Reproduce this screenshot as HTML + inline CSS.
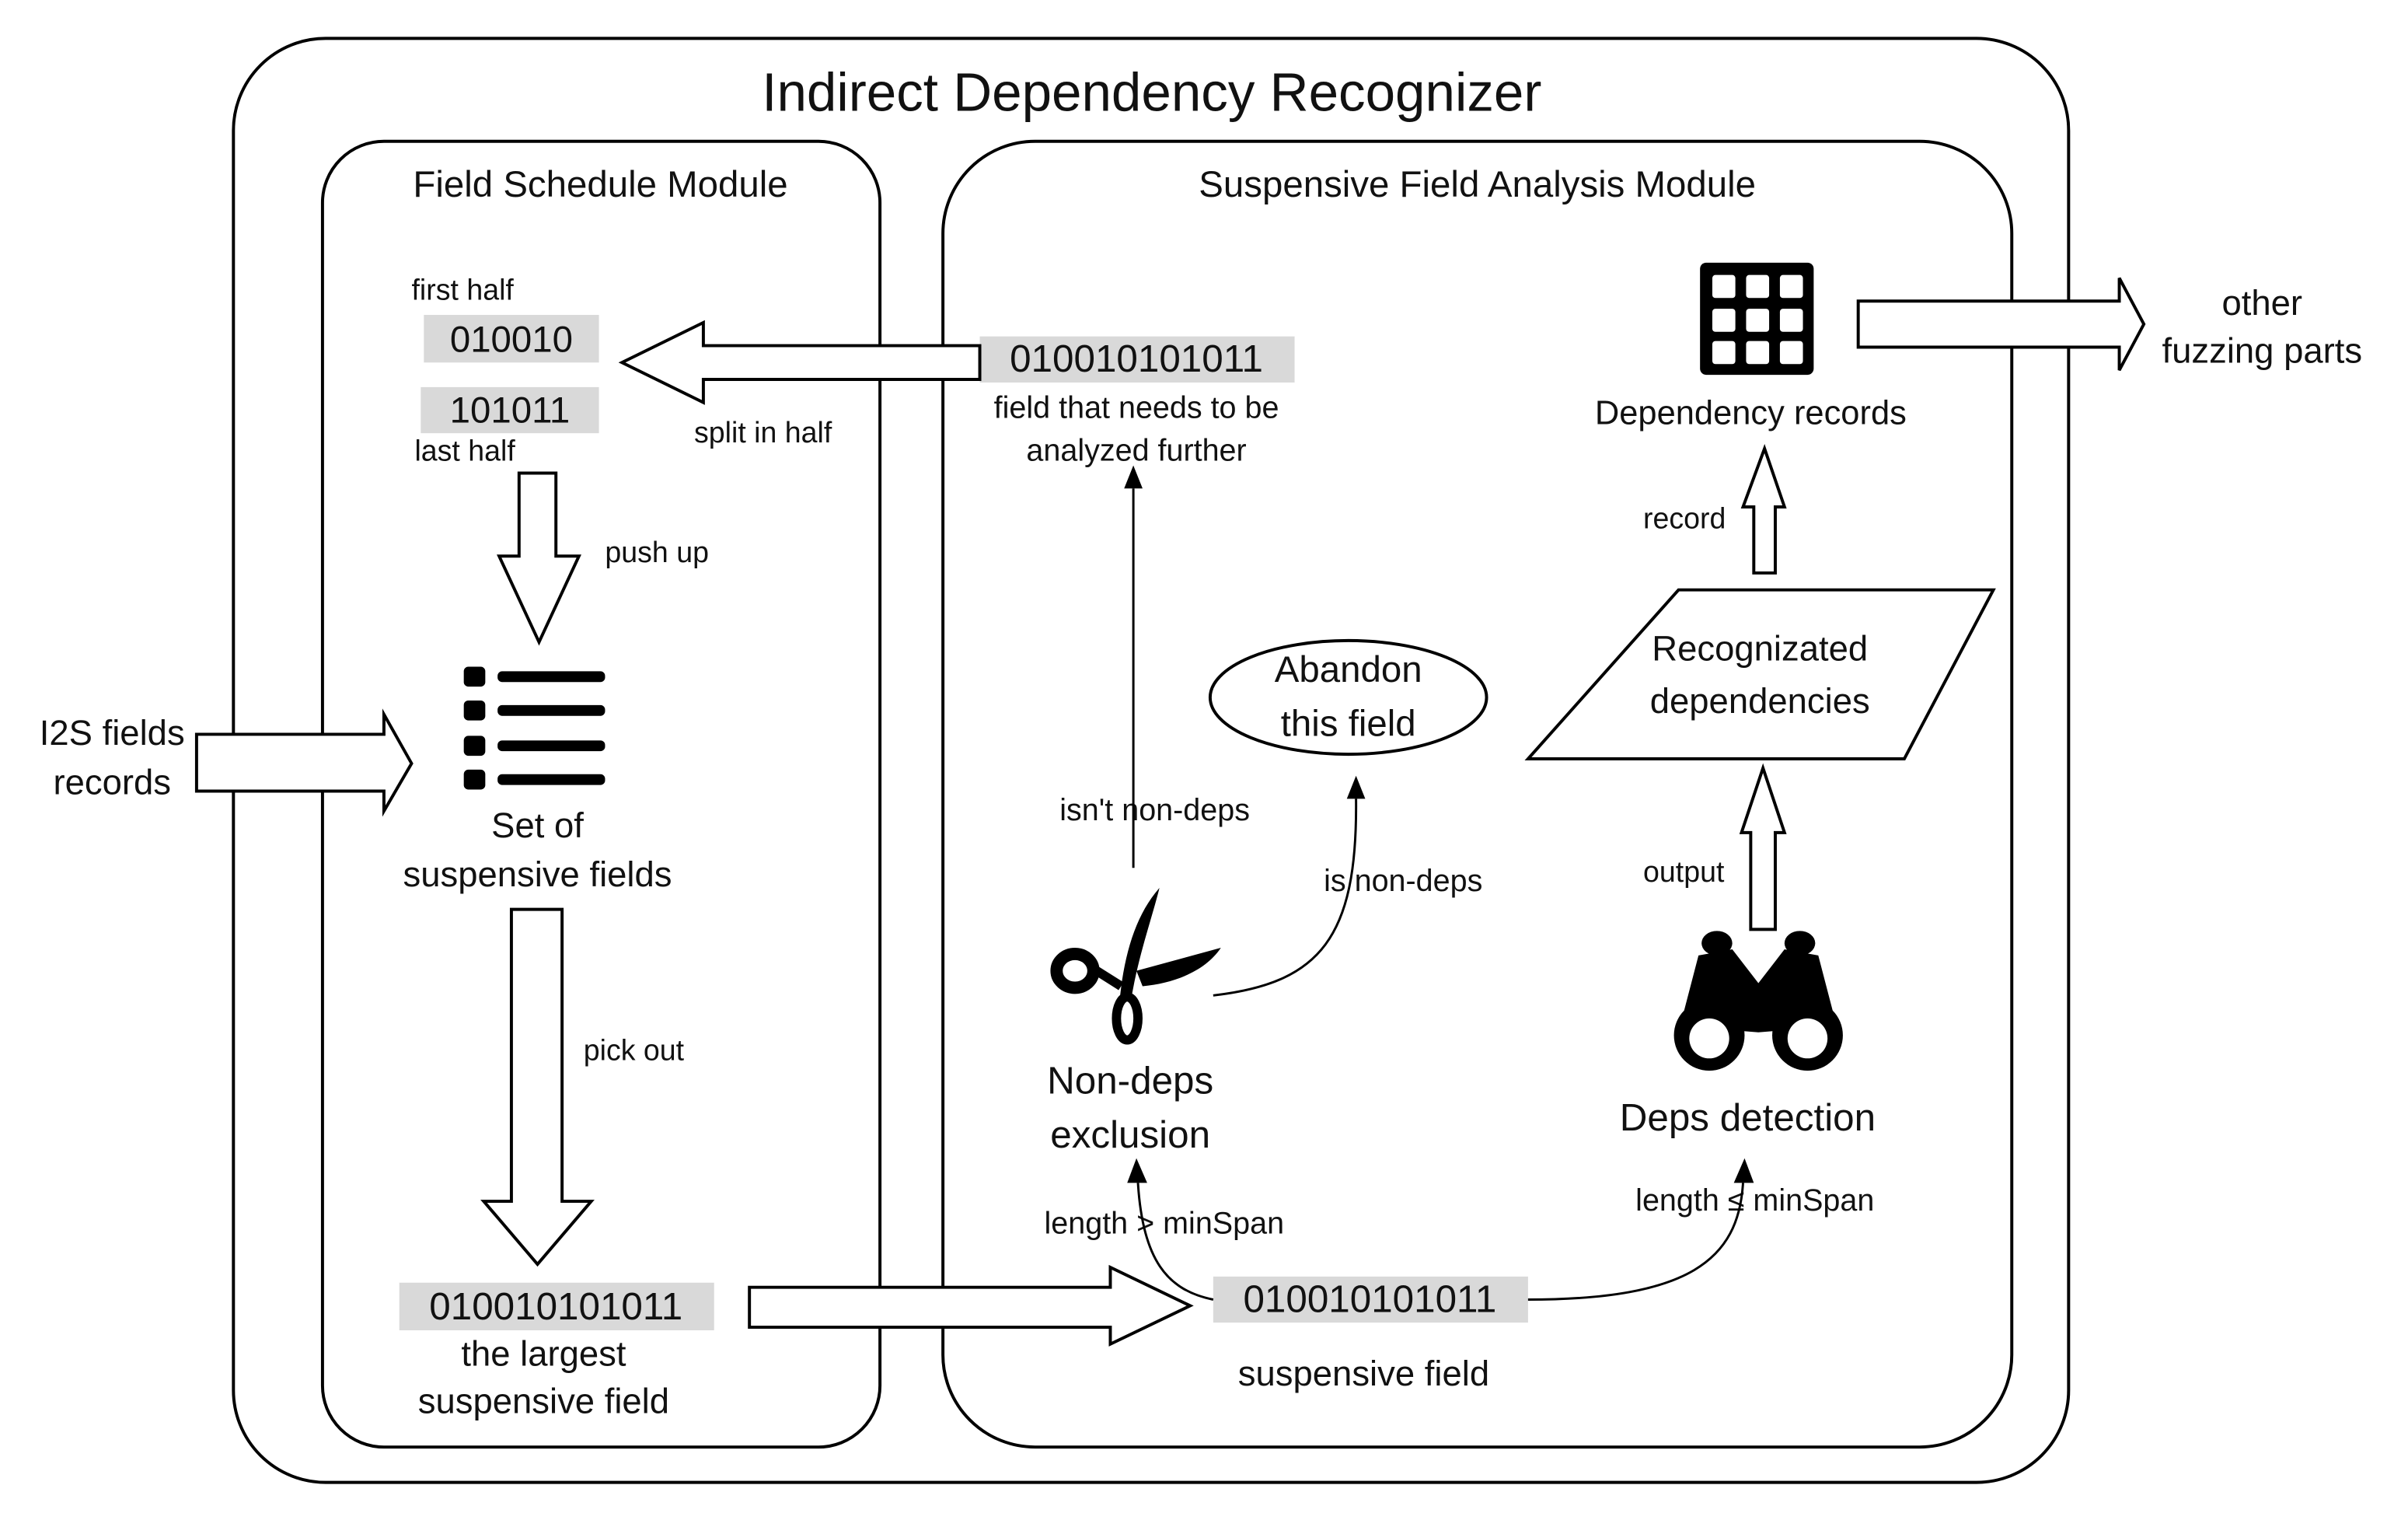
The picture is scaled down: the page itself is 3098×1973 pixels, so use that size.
<!DOCTYPE html>
<html><head><meta charset="utf-8"><style>
html,body{margin:0;padding:0;background:#fff;}
svg{display:block;}
text{font-family:"Liberation Sans",sans-serif;fill:#111;}
</style></head><body>
<svg width="3098" height="1973" viewBox="0 0 1568 998.6" preserveAspectRatio="none" xmlns="http://www.w3.org/2000/svg">
<rect x="0" y="0" width="1568" height="998.6" fill="#fff"/>
<g fill="none" stroke="#000" stroke-width="2">
<rect x="152" y="25" width="1195" height="940" rx="60"/>
<rect x="210" y="92" width="363" height="850" rx="40"/>
<rect x="614" y="92" width="696" height="850" rx="60"/>
</g>
<text x="750" y="72" font-size="35" text-anchor="middle">Indirect Dependency Recognizer</text>
<text x="391" y="128" font-size="24" text-anchor="middle">Field Schedule Module</text>
<text x="962" y="128" font-size="24" text-anchor="middle">Suspensive Field Analysis Module</text>

<g fill="#d9d9d9">
<rect x="276" y="205" width="114" height="31"/>
<rect x="274" y="252" width="116" height="30"/>
<rect x="260" y="835" width="205" height="31"/>
<rect x="638" y="219" width="205" height="30"/>
<rect x="790" y="831" width="205" height="30"/>
</g>
<text x="268" y="195" font-size="19">first half</text>
<text x="333" y="229" font-size="24" text-anchor="middle">010010</text>
<text x="332" y="275" font-size="24" text-anchor="middle">101011</text>
<text x="270" y="300" font-size="19">last half</text>
<text x="362" y="859" font-size="25" text-anchor="middle">010010101011</text>
<text x="740" y="242" font-size="25" text-anchor="middle">010010101011</text>
<text x="892" y="854" font-size="25" text-anchor="middle">010010101011</text>

<g fill="#fff" stroke="#000" stroke-width="2" stroke-linejoin="miter">
<polygon points="638,225 458,225 458,210 405,236 458,262 458,247 638,247"/>
<polygon points="338,308 362,308 362,362 377,362 351,418 325,362 338,362"/>
<polygon points="333,592 366,592 366,782 385,782 350,823 315,782 333,782"/>
<polygon points="128,478 250,478 250,465 268,497 250,528 250,515 128,515"/>
<polygon points="488,838 723,838 723,825 775,850 723,875 723,864 488,864"/>
<polygon points="1140,605 1156,605 1156,542 1162,542 1148,500 1134,542 1140,542"/>
<polygon points="1142,373 1156,373 1156,330 1162,330 1149,292 1135,330 1142,330"/>
<polygon points="1210,196 1380,196 1380,181 1396,211 1380,241 1380,226 1210,226"/>
<polygon points="1093,384 1298,384 1240,494 995,494"/>
<ellipse cx="878" cy="454" rx="90" ry="37"/>
</g>

<text x="452" y="288" font-size="19">split in half</text>
<text x="394" y="366" font-size="19">push up</text>
<text x="380" y="690" font-size="19">pick out</text>
<text x="73" y="485" font-size="23" text-anchor="middle">I2S fields</text>
<text x="73" y="517" font-size="23" text-anchor="middle">records</text>
<text x="350" y="545" font-size="23" text-anchor="middle">Set of</text>
<text x="350" y="577" font-size="23" text-anchor="middle">suspensive fields</text>
<text x="354" y="889" font-size="23" text-anchor="middle">the largest</text>
<text x="354" y="920" font-size="23" text-anchor="middle">suspensive field</text>

<g fill="#000">
<rect x="302" y="434" width="14" height="13" rx="3"/><rect x="324" y="437" width="70" height="7" rx="3"/>
<rect x="302" y="456" width="14" height="13" rx="3"/><rect x="324" y="459" width="70" height="7" rx="3"/>
<rect x="302" y="479" width="14" height="13" rx="3"/><rect x="324" y="482" width="70" height="7" rx="3"/>
<rect x="302" y="501" width="14" height="13" rx="3"/><rect x="324" y="504" width="70" height="7" rx="3"/>
</g>

<text x="740" y="272" font-size="20" text-anchor="middle">field that needs to be</text>
<text x="740" y="300" font-size="20" text-anchor="middle">analyzed further</text>
<text x="878" y="444" font-size="24" text-anchor="middle">Abandon</text>
<text x="878" y="479" font-size="24" text-anchor="middle">this field</text>
<text x="690" y="534" font-size="20">isn't non-deps</text>
<text x="862" y="580" font-size="20">is non-deps</text>
<text x="736" y="712" font-size="25" text-anchor="middle">Non-deps</text>
<text x="736" y="747" font-size="25" text-anchor="middle">exclusion</text>
<text x="680" y="803" font-size="20">length &gt; minSpan</text>
<text x="888" y="902" font-size="23" text-anchor="middle">suspensive field</text>
<text x="1065" y="788" font-size="20">length ≤ minSpan</text>
<text x="1138" y="736" font-size="25" text-anchor="middle">Deps detection</text>
<text x="1070" y="574" font-size="19">output</text>
<text x="1146" y="430" font-size="23" text-anchor="middle">Recognizated</text>
<text x="1146" y="464" font-size="23" text-anchor="middle">dependencies</text>
<text x="1070" y="344" font-size="19">record</text>
<text x="1140" y="276" font-size="22" text-anchor="middle">Dependency records</text>
<text x="1473" y="205" font-size="23" text-anchor="middle">other</text>
<text x="1473" y="236" font-size="23" text-anchor="middle">fuzzing parts</text>

<g fill="none" stroke="#000" stroke-width="1.5">
<line x1="738" y1="565" x2="738" y2="318"/>
<path d="M790 648 C860 640 884 610 883 520"/>
<path d="M790 846 C760 840 744 820 741 770"/>
<path d="M995 846 C1100 846 1132 820 1135 770"/>
</g>
<g fill="#000">
<polygon points="738,303 732,318 744,318"/>
<polygon points="883,505 877,520 889,520"/>
<polygon points="740,754 734,770 747,770"/>
<polygon points="1136,754 1129,770 1142,770"/>
</g>

<rect x="1107" y="171" width="74" height="73" rx="4" fill="#000"/>
<g fill="#fff">
<rect x="1115" y="179" width="15" height="15" rx="2"/><rect x="1137" y="179" width="15" height="15" rx="2"/><rect x="1159" y="179" width="15" height="15" rx="2"/>
<rect x="1115" y="201" width="15" height="15" rx="2"/><rect x="1137" y="201" width="15" height="15" rx="2"/><rect x="1159" y="201" width="15" height="15" rx="2"/>
<rect x="1115" y="222" width="15" height="15" rx="2"/><rect x="1137" y="222" width="15" height="15" rx="2"/><rect x="1159" y="222" width="15" height="15" rx="2"/>
</g>

<g>
<path d="M755 578 C740 595 732 620 729 652 L737 648 C742 620 750 598 755 578Z" fill="#000"/>
<path d="M740 632 L795 617 C785 632 765 640 744 642Z" fill="#000"/>
<ellipse cx="700" cy="632" rx="12" ry="11" fill="none" stroke="#000" stroke-width="8"/>
<ellipse cx="734" cy="663" rx="7" ry="14" fill="none" stroke="#000" stroke-width="6"/>
<path d="M711 630 L730 642" stroke="#000" stroke-width="6"/>
</g>

<g fill="#000">
<ellipse cx="1118" cy="614" rx="10" ry="8"/>
<ellipse cx="1172" cy="614" rx="10" ry="8"/>
<polygon points="1094,668 1106,622 1128,618 1145,640 1162,618 1184,622 1196,668 1145,672"/>
<circle cx="1113" cy="674" r="23"/>
<circle cx="1177" cy="674" r="23"/>
</g>
<g fill="#fff">
<circle cx="1113" cy="676" r="13"/>
<circle cx="1177" cy="676" r="13"/>
</g>
</svg>
</body></html>
